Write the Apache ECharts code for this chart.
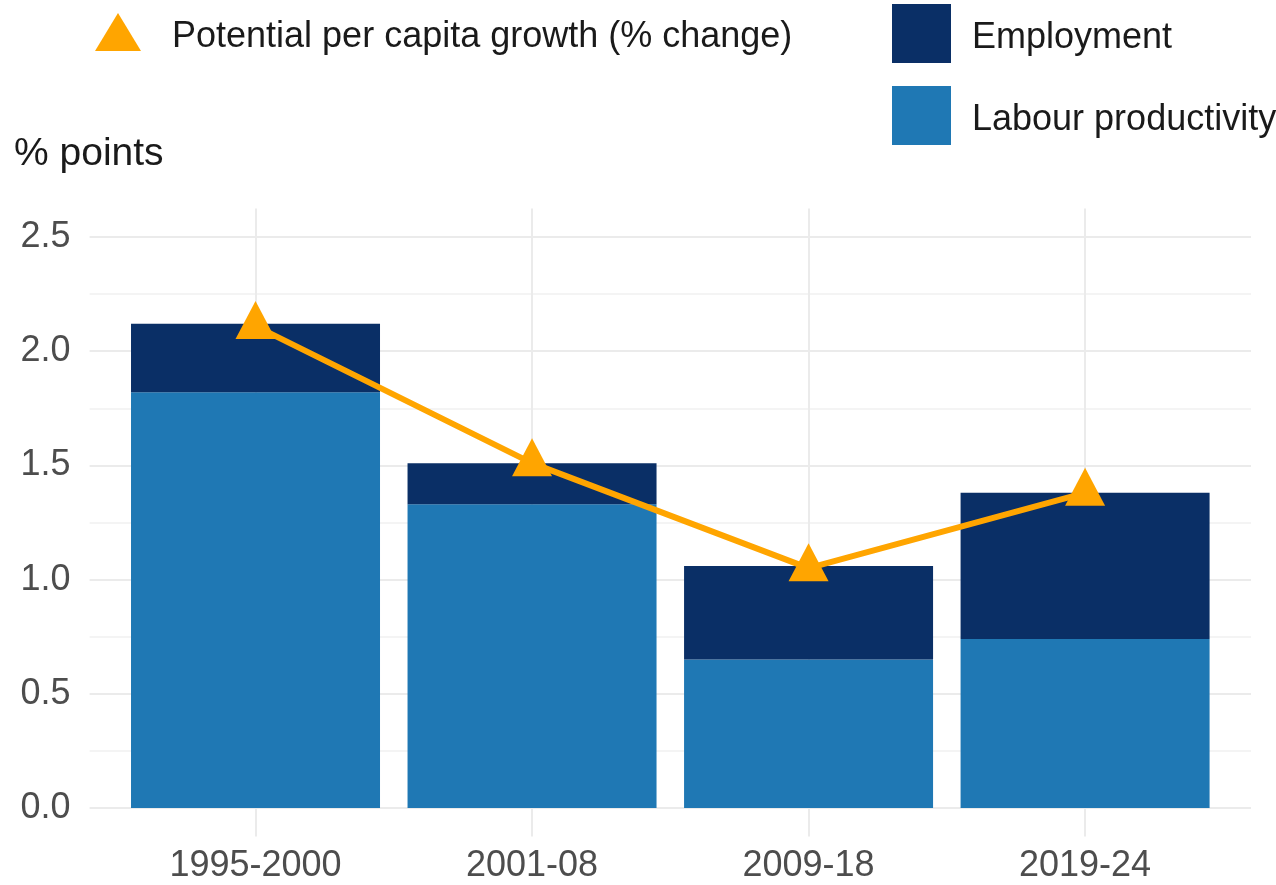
<!DOCTYPE html>
<html>
<head>
<meta charset="utf-8">
<style>
  html, body { margin: 0; padding: 0; background: #ffffff; }
  #chart { width: 1276px; height: 885px; }
</style>
<script src="https://cdn.jsdelivr.net/npm/echarts@6/dist/echarts.min.js"></script>
</head>
<body>
<div id="chart"></div>
<script>
// Contributions to potential per capita growth by period
const periods = ['1995-2000', '2001-08', '2009-18', '2019-24'];
const labourProductivity = [1.82, 1.33, 0.65, 0.74];
const employment = [0.30, 0.18, 0.41, 0.64];
const potentialGrowth = [2.11, 1.51, 1.05, 1.38];
const majorTicks = [0, 0.5, 1.0, 1.5, 2.0, 2.5];
const minorTicks = [0.25, 0.75, 1.25, 1.75, 2.25];

const FONT = '"Liberation Sans", Arial, Helvetica, sans-serif';
const positions = periods.map((_, i) => i + 1);
// value first so that stacking runs along the vertical dimension
const stackPairs = (vals) => vals.map((v, i) => [v, positions[i]]);
const pairs = (vals) => vals.map((v, i) => [positions[i], v]);

// legend labels sit slightly below the middle of their keys
const legendText = {
  fontFamily: FONT,
  fontSize: 36,
  color: '#1a1a1a',
  rich: {
    lbl: { fontFamily: FONT, fontSize: 36, color: '#1a1a1a', padding: [10, 0, 0, 0] }
  }
};

const chart = echarts.init(document.getElementById('chart'), null, { renderer: 'canvas' });

chart.setOption({
  animation: false,
  backgroundColor: '#ffffff',
  textStyle: { fontFamily: FONT },
  title: {
    text: '% points',
    left: 14,
    top: 135,
    padding: 0,
    textStyle: { fontFamily: FONT, fontSize: 39, fontWeight: 'normal', color: '#1a1a1a' }
  },
  legend: [
    {
      data: [{ name: 'Potential per capita growth (% change)', icon: 'triangle' }],
      left: 95,
      top: 13,
      padding: 0,
      itemWidth: 46,
      itemHeight: 38,
      formatter: '{lbl|{name}}',
      textStyle: Object.assign({}, legendText, { padding: [0, 0, 0, 26] }),
      selectedMode: false
    },
    {
      data: [
        { name: 'Employment', icon: 'rect' },
        { name: 'Labour productivity', icon: 'rect' }
      ],
      orient: 'vertical',
      left: 892,
      top: 4,
      padding: 0,
      itemWidth: 59,
      itemHeight: 59,
      itemGap: 23,
      formatter: '{lbl|{name}}',
      textStyle: Object.assign({}, legendText, { padding: [0, 0, 0, 16] }),
      selectedMode: false
    }
  ],
  grid: {
    left: 89.6,
    right: 25,
    top: 208.5,
    bottom: 48.5,
    containLabel: false,
    outerBoundsMode: 'none'
  },
  xAxis: {
    type: 'value',
    min: 0.4,
    max: 4.6,
    axisLine: { show: false },
    axisTick: { show: false, customValues: positions },
    axisLabel: {
      customValues: positions,
      formatter: (v) => periods[Math.round(v) - 1] || '',
      color: '#4d4d4d',
      fontSize: 36,
      fontFamily: FONT,
      margin: 12
    },
    splitLine: { show: true, lineStyle: { color: '#ebebeb', width: 2 } }
  },
  yAxis: [
    {
      type: 'value',
      min: -0.125,
      max: 2.625,
      axisLine: { show: false },
      axisTick: { show: false, customValues: majorTicks },
      axisLabel: {
        customValues: majorTicks,
        formatter: (v) => v.toFixed(1),
        color: '#4d4d4d',
        fontSize: 36,
        fontFamily: FONT,
        margin: 19
      },
      splitLine: { show: true, lineStyle: { color: '#ebebeb', width: 2 } }
    },
    {
      type: 'value',
      min: -0.125,
      max: 2.625,
      axisLine: { show: false },
      axisTick: { show: false, customValues: minorTicks },
      axisLabel: { show: false, customValues: minorTicks },
      splitLine: { show: true, lineStyle: { color: '#f0f0f0', width: 1.5 } }
    }
  ],
  series: [
    {
      name: 'Labour productivity',
      type: 'bar',
      stack: 'contrib',
      barWidth: 249,
      encode: { x: 1, y: 0 },
      itemStyle: { color: '#1f78b4' },
      data: stackPairs(labourProductivity),
      z: 2
    },
    {
      name: 'Employment',
      type: 'bar',
      stack: 'contrib',
      barWidth: 249,
      encode: { x: 1, y: 0 },
      itemStyle: { color: '#0a2f66' },
      data: stackPairs(employment),
      z: 2
    },
    {
      name: 'Potential per capita growth (% change)',
      type: 'line',
      data: pairs(potentialGrowth),
      symbol: 'triangle',
      symbolSize: [40, 38],
      symbolOffset: [0, -6],
      lineStyle: { color: '#ffa500', width: 6 },
      itemStyle: { color: '#ffa500' },
      z: 5
    }
  ]
});
</script>
</body>
</html>
